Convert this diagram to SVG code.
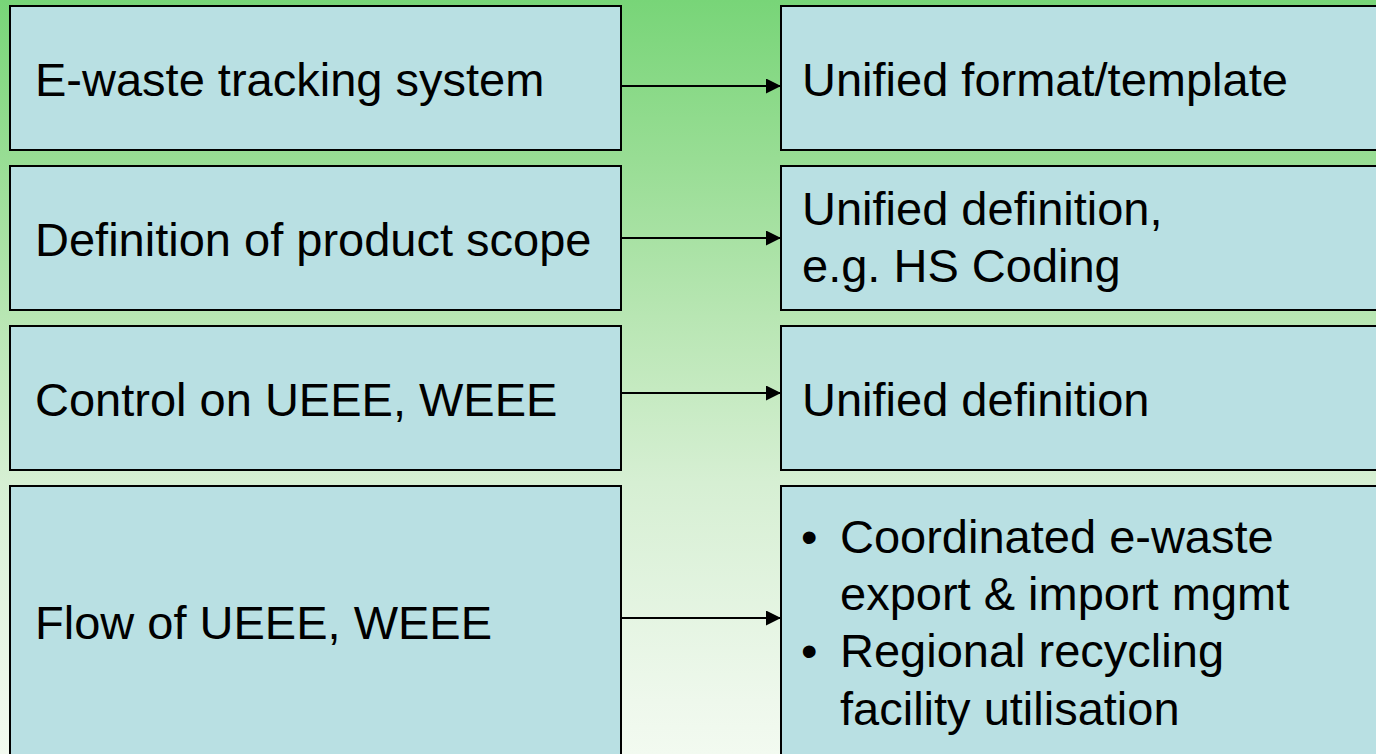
<svg xmlns="http://www.w3.org/2000/svg" width="1376" height="754" viewBox="0 0 1376 754">
<defs>
<linearGradient id="bg" x1="0" y1="0" x2="0" y2="1">
<stop offset="0" stop-color="#78d578"/>
<stop offset="0.21" stop-color="#98dd94"/>
<stop offset="0.42" stop-color="#b8e6b3"/>
<stop offset="0.64" stop-color="#d6efd3"/>
<stop offset="0.93" stop-color="#eef8ec"/>
<stop offset="1" stop-color="#f2faf0"/>
</linearGradient>
<marker id="arr" markerWidth="16" markerHeight="16" refX="15" refY="7.5" orient="auto" markerUnits="userSpaceOnUse">
<path d="M0,0 L15,7.5 L0,15 Z" fill="#000"/>
</marker>
<style>
.box{fill:#b9e0e3;stroke:#000;stroke-width:2}
.t{font-family:"Liberation Sans",Arial,sans-serif;font-size:47px;fill:#000}
.c{stroke:#000;stroke-width:2;fill:none}
</style>
</defs>
<rect x="0" y="0" width="1376" height="754" fill="url(#bg)"/>
<g id="n1"><rect class="box" x="10" y="6" width="611" height="144"/><text class="t" x="35" y="96">E-waste tracking system</text></g>
<g id="n2"><rect class="box" x="10" y="166" width="611" height="144"/><text class="t" x="35" y="256">Definition of product scope</text></g>
<g id="n3"><rect class="box" x="10" y="326" width="611" height="144"/><text class="t" x="35" y="416">Control on UEEE, WEEE</text></g>
<g id="n4"><rect class="box" x="10" y="486" width="611" height="290"/><text class="t" x="35" y="639">Flow of UEEE, WEEE</text></g>
<g id="m1"><rect class="box" x="781" y="6" width="620" height="144"/><text class="t" x="802" y="96">Unified format/template</text></g>
<g id="m2"><rect class="box" x="781" y="166" width="620" height="144"/><text class="t" x="802" y="225">Unified definition,</text><text class="t" x="802" y="282">e.g. HS Coding</text></g>
<g id="m3"><rect class="box" x="781" y="326" width="620" height="144"/><text class="t" x="802" y="416">Unified definition</text></g>
<g id="m4"><rect class="box" x="781" y="486" width="620" height="290"/>
<text class="t" x="801" y="553">•</text><text class="t" x="840" y="553">Coordinated e-waste</text>
<text class="t" x="840" y="610">export &amp; import mgmt</text>
<text class="t" x="801" y="667">•</text><text class="t" x="840" y="667">Regional recycling</text>
<text class="t" x="840" y="725">facility utilisation</text>
</g>
<g id="connectors">
<line class="c" x1="621" y1="86" x2="781" y2="86" marker-end="url(#arr)"/>
<line class="c" x1="621" y1="238" x2="781" y2="238" marker-end="url(#arr)"/>
<line class="c" x1="621" y1="393" x2="781" y2="393" marker-end="url(#arr)"/>
<line class="c" x1="621" y1="618" x2="781" y2="618" marker-end="url(#arr)"/>
</g>
</svg>
